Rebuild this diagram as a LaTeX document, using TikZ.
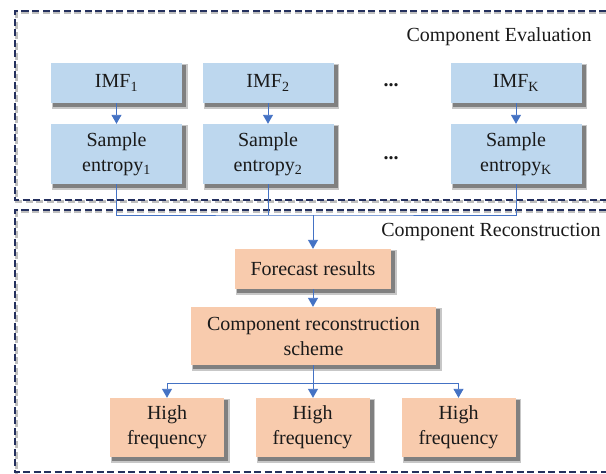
\documentclass[tikz,border=0pt]{standalone}
\usepackage{fontspec}
\setmainfont{Liberation Serif}
\usetikzlibrary{arrows.meta,backgrounds}
\definecolor{bluebox}{HTML}{BDD7EE}
\definecolor{orangebox}{HTML}{F8CBAD}
\definecolor{conncol}{HTML}{4472C4}
\definecolor{framecol}{HTML}{24305E}
\definecolor{txtcol}{HTML}{1A1A1A}
\tikzset{
  boxbase/.style={draw=none, align=center, text=txtcol, inner sep=0pt,
    font=\fontsize{20}{25}\selectfont},
  bbox/.style={boxbase, fill=bluebox},
  obox/.style={boxbase, fill=orangebox},
  conn/.style={draw=conncol, line width=0.9pt},
  arr/.style={conn, -{Triangle[width=10pt,length=9pt]}},
  frame/.style={draw=framecol, line width=2.6pt, dash pattern=on 7pt off 3.5pt},
  frameshadow/.style={draw=black!25, line width=2.6pt, dash pattern=on 7pt off 3.5pt},
  lbl/.style={text=txtcol, font=\fontsize{20}{25}\selectfont, inner sep=0pt},
  shadowA/.style={fill=black!22},
  shadowB/.style={fill=black!50}
}
\newcommand{\boxshadow}[1]{%
  \fill[shadowA] ([shift={(1.5pt,-5.5pt)}]#1.south west) rectangle ([shift={(5.5pt,-1.5pt)}]#1.north east);
  \fill[shadowB] ([shift={(2.5pt,-4pt)}]#1.south west) rectangle ([shift={(4pt,-2.5pt)}]#1.north east);}
\begin{document}
\begin{tikzpicture}[x=1pt,y=-1pt]
\useasboundingbox (0,0) rectangle (606,474);
% frames (open on the right)
\draw[frameshadow] (606,12.5) -- (16.5,12.5) -- (16.5,201.5) -- (606,201.5);
\draw[frame] (606,11) -- (15,11) -- (15,200) -- (606,200);
\draw[frameshadow] (606,211.5) -- (16.5,211.5) -- (16.5,474);
\draw[frame] (606,210) -- (15,210) -- (15,472) -- (606,472);
\node[lbl] (ce) at (499,37) {Component Evaluation};
\node[lbl] (cr) at (491,232) {Component Reconstruction};
% IMF boxes
\node[bbox, minimum width=131pt, minimum height=40pt] (imf1) at (116.5,83) {IMF\textsubscript{1}};
\node[bbox, minimum width=131pt, minimum height=40pt] (imf2) at (268,83) {IMF\textsubscript{2}};
\node[bbox, minimum width=131pt, minimum height=40pt] (imfK) at (516,83) {IMF\textsubscript{K}};
\node[bbox, minimum width=131pt, minimum height=60pt] (se1) at (116.5,154) {Sample\\entropy\textsubscript{1}};
\node[bbox, minimum width=131pt, minimum height=60pt] (se2) at (268,154) {Sample\\entropy\textsubscript{2}};
\node[bbox, minimum width=131pt, minimum height=60pt] (seK) at (516,154) {Sample\\entropy\textsubscript{K}};
\node[lbl] (d1) at (391,85) {\textbf{...}};
\node[lbl] (d2) at (391,158) {\textbf{...}};
\draw[arr] (imf1) -- (se1);
\draw[arr] (imf2) -- (se2);
\draw[arr] (imfK) -- (seK);
% reconstruction
\node[obox, minimum width=156pt, minimum height=40pt] (fc) at (313,269) {Forecast results};
\node[obox, minimum width=245pt, minimum height=58pt] (sch) at (313.5,336) {Component reconstruction\\scheme};
\node[obox, minimum width=114pt, minimum height=59pt] (h1) at (167,427.5) {High\\frequency};
\node[obox, minimum width=114pt, minimum height=59pt] (h2) at (312.5,427.5) {High\\frequency};
\node[obox, minimum width=114pt, minimum height=59pt] (h3) at (458.5,427.5) {High\\frequency};
\begin{scope}[on background layer]
\boxshadow{imf1}\boxshadow{imf2}\boxshadow{imfK}
\boxshadow{se1}\boxshadow{se2}\boxshadow{seK}
\boxshadow{fc}\boxshadow{sch}
\boxshadow{h1}\boxshadow{h2}\boxshadow{h3}
\end{scope}
\coordinate (merge) at (313,215);
\draw[conn] (se1.south) |- (merge) -| (seK.south);
\draw[conn] (se2.south) -- (se2.south |- merge);
\draw[arr] (merge) -- (merge |- fc.north);
\draw[arr] (fc.south -| merge) -- (merge |- sch.north);
\coordinate (split) at (313,383);
\draw[conn] (sch.south -| split) -- (split);
\draw[arr] (split) -- (split |- h2.north);
\draw[arr] (split) -| (h1.north);
\draw[arr] (split) -| (h3.north);
\end{tikzpicture}
\end{document}
